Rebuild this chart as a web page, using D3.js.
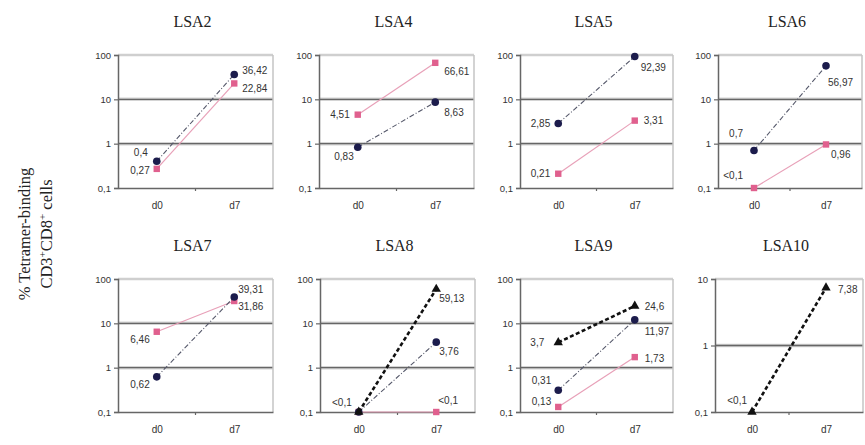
<!DOCTYPE html>
<html><head><meta charset="utf-8">
<script src="https://cdn.jsdelivr.net/npm/d3@7"></script>
<style>body{margin:0;background:#fff}</style>
</head><body><svg id="c" width="865" height="445"></svg>
<script>
// ---- data ----
const panelNames = ["LSA2","LSA4","LSA5","LSA6","LSA7","LSA8","LSA9","LSA10"];
const dayLabels = ["d0","d7"];
const yTickValues = [0.1, 1, 10, 100];
const yTickLabels = ["0,1","1","10","100"];
const yMaxByPanel = [100,100,100,100,100,100,100,10];
const blueValues = [[0.4,36.42],[0.83,8.63],[2.85,92.39],[0.7,56.97],[0.62,39.31],[0.1,3.76],[0.31,11.97],null];
const blueLabels = [["0,4","36,42"],["0,83","8,63"],["2,85","92,39"],["0,7","56,97"],["0,62","39,31"],[null,"3,76"],["0,31","11,97"],null];
const pinkValues = [[0.27,22.84],[4.51,66.61],[0.21,3.31],[0.1,0.96],[6.46,31.86],[0.1,0.1],[0.13,1.73],null];
const pinkLabels = [["0,27","22,84"],["4,51","66,61"],["0,21","3,31"],["<0,1","0,96"],["6,46","31,86"],[null,"<0,1"],["0,13","1,73"],null];
const blackValues = [null,null,null,null,null,[0.1,59.13],[3.7,24.6],[0.1,7.38]];
const blackLabels = [null,null,null,null,null,["<0,1","59,13"],["3,7","24,6"],["<0,1","7,38"]];

// ---- layout (positions / offsets, not data) ----
const plotLeft  = [118,319,520,718,118,320,520,715];
const plotWidth = [155,155,153,144,155,155,153,148];
const rowTop = [55,279], rowBottom = [188,412];
const blueOff  = [[[-9,-9],[8,-4]],[[-4,9],[9,10]],[[-8,0],[6,11]],[[-11,-17],[2,17]],[[-7,8],[4,-7]],[null,[3,9]],[[-7,-10],[10,12]],null];
const pinkOff  = [[[-7,2],[8,5]],[[-8,0],[9,9]],[[-8,0],[9,0]],[[-11,-13],[5,10]],[[-7,8],[4,5]],[null,[2,-12]],[[-7,-5],[10,1]],null];
const blackOff = [null,null,null,null,null,[[-7,-10],[3,9]],[[-14,0],[10,0]],[[-5,-12],[12,2]]];

const svg = d3.select("#c");
const sans = "'Liberation Sans', Arial, sans-serif";
const serif = "'Liberation Serif', 'Times New Roman', serif";

// y-axis title
const yt = svg.append("g").attr("transform","translate(0,234) rotate(-90)");
yt.append("text").attr("x",0).attr("y",30).attr("text-anchor","middle")
  .style("font-family",serif).style("font-size","16.5px").attr("fill","#222")
  .text("% Tetramer-binding");
const l2 = yt.append("text").attr("x",0).attr("y",52).attr("text-anchor","middle")
  .style("font-family",serif).style("font-size","16.5px").attr("fill","#222");
l2.append("tspan").text("CD3");
l2.append("tspan").attr("dy",-6).style("font-size","11px").text("+");
l2.append("tspan").attr("dy",6).text("CD8");
l2.append("tspan").attr("dy",-6).style("font-size","11px").text("+");
l2.append("tspan").attr("dy",6).text(" cells");

panelNames.forEach((name, i) => {
  const row = i < 4 ? 0 : 1;
  const x0 = plotLeft[i], w = plotWidth[i];
  const top = rowTop[row], bot = rowBottom[row];
  const y = d3.scaleLog().domain([0.1, yMaxByPanel[i]]).range([bot, top]);
  const x = d3.scalePoint().domain(dayLabels).range([x0, x0 + w]).padding(0.5);
  const g = svg.append("g");

  // title
  g.append("text").attr("x", x0 + w/2 - 3).attr("y", top - 28)
    .attr("text-anchor","middle").style("font-family",serif).style("font-size","16px")
    .attr("fill","#222").text(name);

  // gridlines
  const ticks = yTickValues.filter(v => v <= yMaxByPanel[i]);
  ticks.forEach(v => {
    if (v === 0.1) return;
    if (v === yMaxByPanel[i]) {
      g.append("line").attr("x1",x0).attr("x2",x0+w).attr("y1",y(v)).attr("y2",y(v))
        .attr("stroke","#cfcfcf").attr("stroke-width",2.5);
    } else {
      g.append("line").attr("x1",x0).attr("x2",x0+w).attr("y1",y(v)).attr("y2",y(v))
        .attr("stroke","#d4d4d4").attr("stroke-width",3.5);
      g.append("line").attr("x1",x0).attr("x2",x0+w).attr("y1",y(v)).attr("y2",y(v))
        .attr("stroke","#666").attr("stroke-width",1.3);
    }
  });
  // right border
  g.append("line").attr("x1",x0+w).attr("x2",x0+w).attr("y1",top).attr("y2",bot)
    .attr("stroke","#c4c4c4").attr("stroke-width",1.5);

  // y axis
  const ya = g.append("g").attr("transform",`translate(${x0},0)`)
    .call(d3.axisLeft(y).tickValues(ticks).tickSize(4).tickPadding(3)
      .tickFormat(v => yTickLabels[yTickValues.indexOf(v)]));
  ya.select(".domain").attr("stroke","#666").attr("stroke-width",1.5);
  ya.selectAll(".tick line").attr("stroke","#666").attr("stroke-width",1.2);
  ya.selectAll("text").style("font-family",sans).style("font-size","9.5px").attr("fill","#333");

  // x axis
  const xa = g.append("g").attr("transform",`translate(0,${bot})`)
    .call(d3.axisBottom(x).tickSize(0).tickPadding(14));
  xa.select(".domain").attr("stroke","#666").attr("stroke-width",1.5);
  xa.selectAll("text").style("font-family",sans).style("font-size","10px").attr("fill","#333");
  g.append("line").attr("x1",x0+w/2).attr("x2",x0+w/2).attr("y1",bot).attr("y2",bot+3)
    .attr("stroke","#666").attr("stroke-width",1.2);

  const line = d3.line().x((d,k) => x(dayLabels[k])).y(d => y(d));

  function drawSeries(vals, labels, offs, style) {
    if (!vals) return;
    g.append("path").datum(vals).attr("d", line).attr("fill","none")
      .attr("stroke", style.lineColor).attr("stroke-width", style.lineWidth)
      .attr("stroke-dasharray", style.dash);
    vals.forEach((v, k) => {
      const cx = x(dayLabels[k]), cy = y(v);
      if (style.shape === "circle") {
        g.append("circle").attr("cx",cx).attr("cy",cy).attr("r",3.8).attr("fill",style.fill);
      } else if (style.shape === "square") {
        g.append("rect").attr("x",cx-3.2).attr("y",cy-3.2).attr("width",6.4).attr("height",6.4)
          .attr("fill",style.fill);
      } else {
        g.append("path").attr("transform",`translate(${cx},${cy})`)
          .attr("d", d3.symbol().type(d3.symbolTriangle).size(38)).attr("fill",style.fill);
      }
    });
    vals.forEach((v, k) => {
      if (!labels || !labels[k] || !offs[k]) return;
      const [dx, dy] = offs[k];
      g.append("text").attr("x", x(dayLabels[k]) + dx).attr("y", y(v) + dy)
        .attr("dy","0.35em").attr("text-anchor", dx < 0 ? "end" : "start")
        .style("font-family",sans).style("font-size","10px").attr("fill","#333")
        .text(labels[k]);
    });
  }

  drawSeries(pinkValues[i], pinkLabels[i], pinkOff[i],
    {lineColor:"#e8a0b8", lineWidth:1.2, dash:null, shape:"square", fill:"#e0608e"});
  drawSeries(blueValues[i], blueLabels[i], blueOff[i],
    {lineColor:"#55586a", lineWidth:1.1, dash:"5,2,1,2", shape:"circle", fill:"#1c1c4c"});
  drawSeries(blackValues[i], blackLabels[i], blackOff[i],
    {lineColor:"#111", lineWidth:2.6, dash:"4,2.5", shape:"triangle", fill:"#111"});
});
</script></body></html>
